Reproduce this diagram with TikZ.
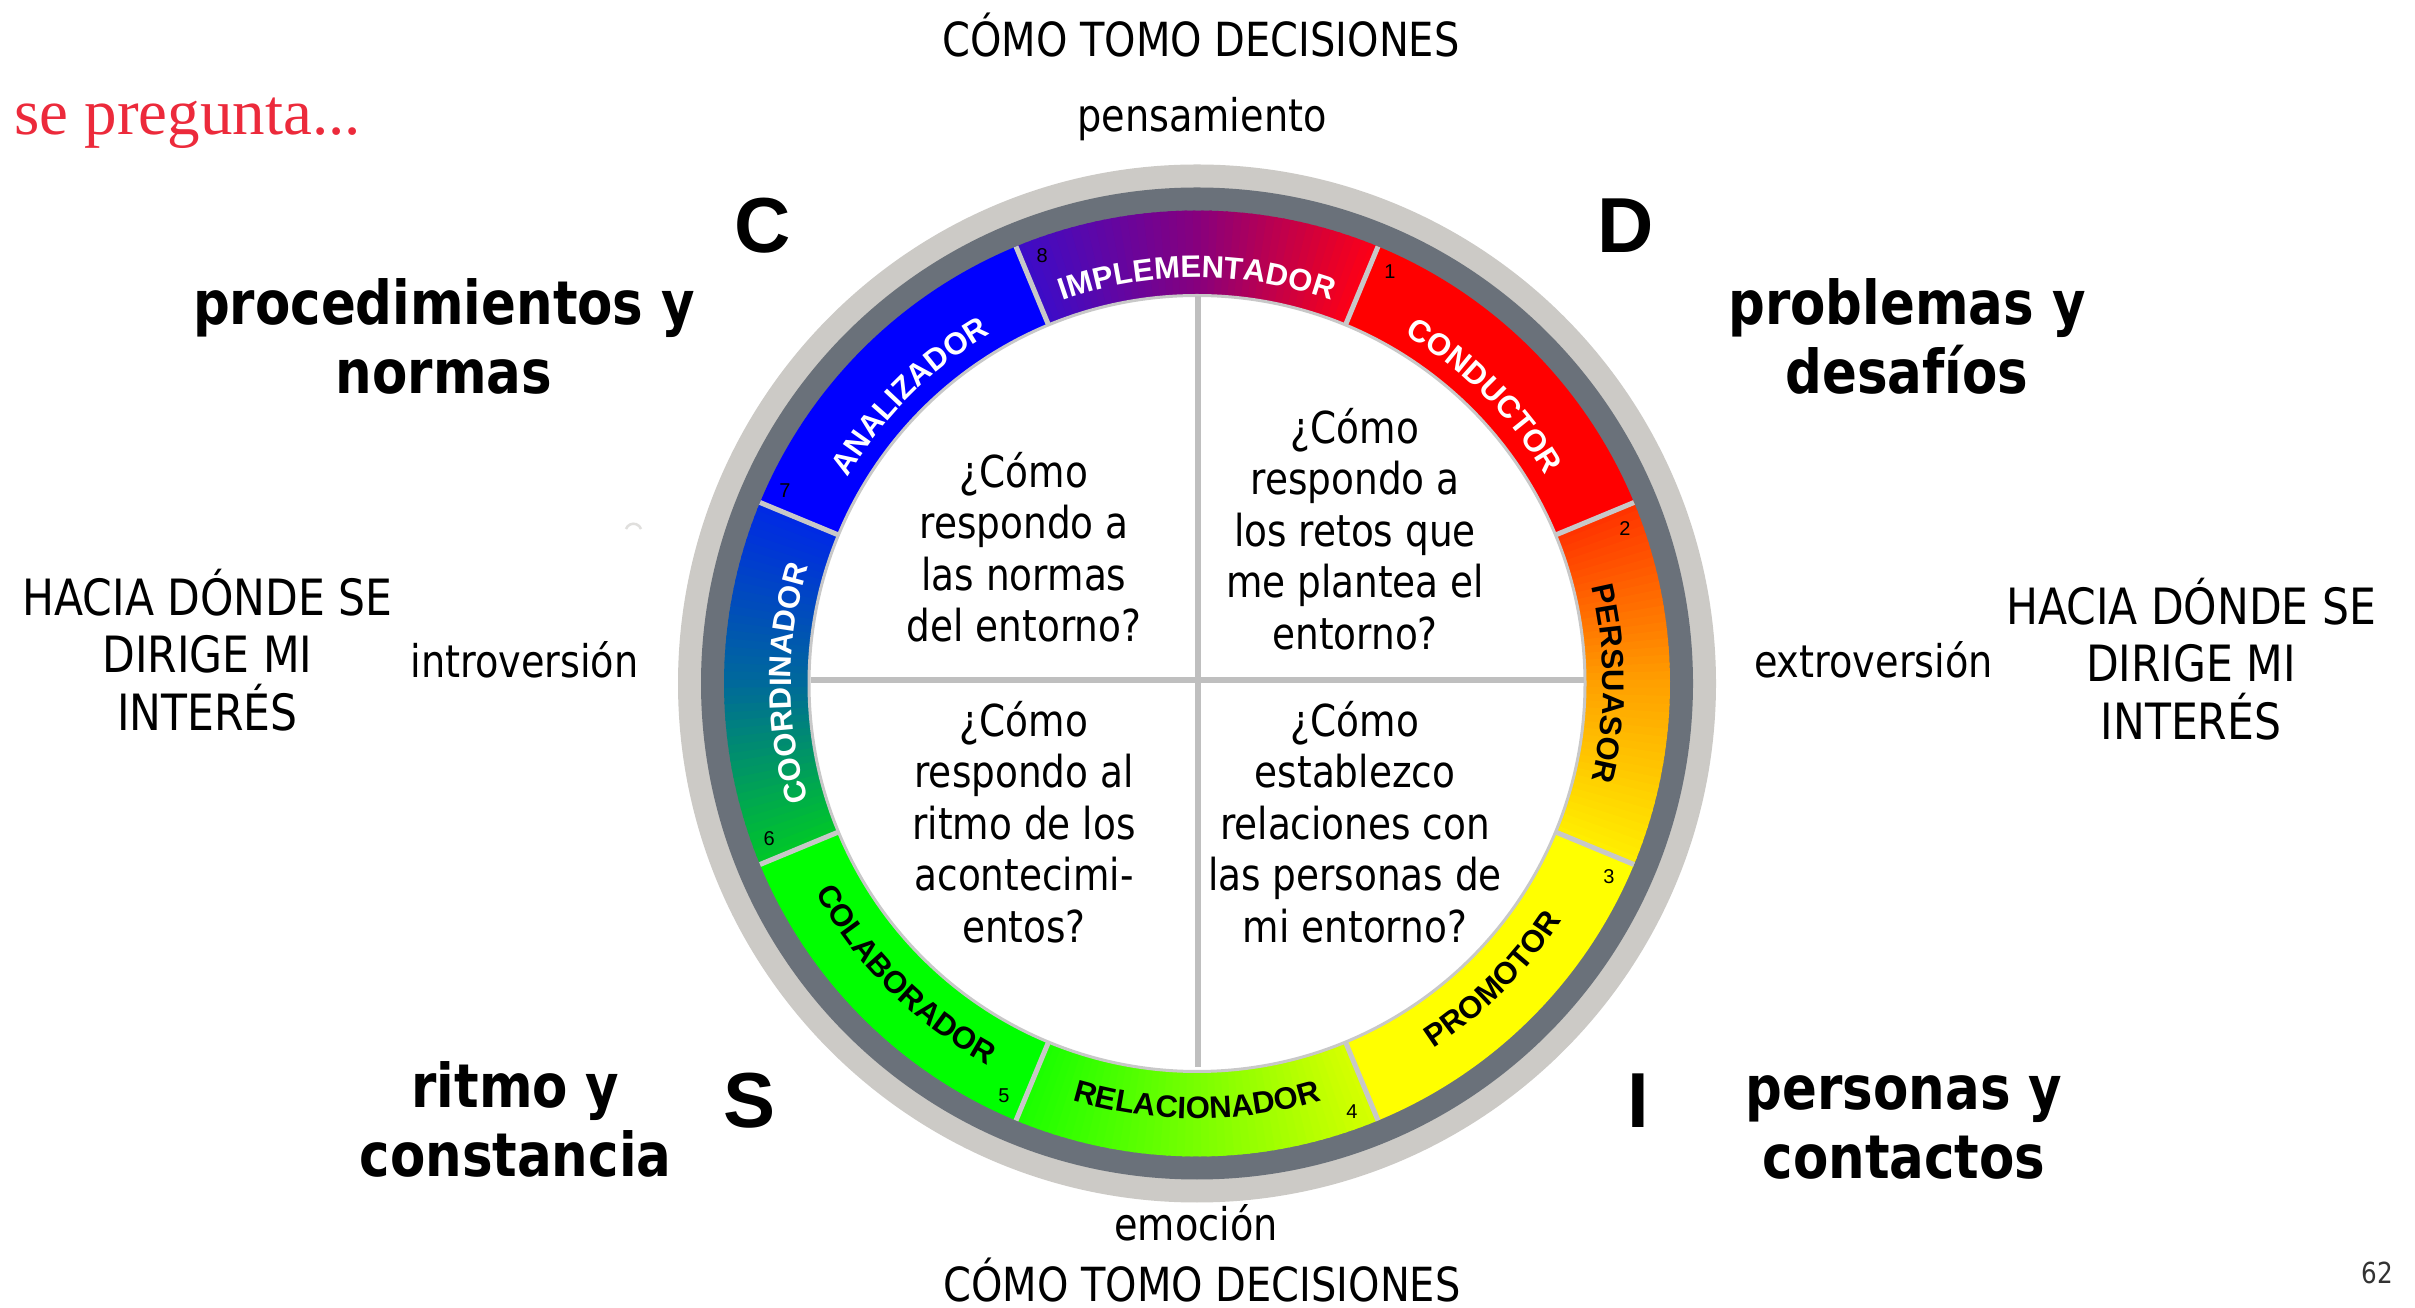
\documentclass[tikz,border=0pt]{standalone}
\usepackage{fontspec}
\setmainfont{DejaVu Sans}[FakeStretch=0.85]
\newfontfamily\arialf{Liberation Sans}
\newfontfamily\redserif{Liberation Serif}
\usetikzlibrary{decorations.text}

\definecolor{ringlight}{HTML}{CCCAC6}
\definecolor{ringdark}{HTML}{6A717A}
\definecolor{sepgray}{HTML}{C8C8C8}
\definecolor{crossgray}{HTML}{BFBFBF}
\definecolor{titlered}{HTML}{EC2A3B}
\definecolor{pagegray}{HTML}{333333}
\definecolor{impA}{RGB}{60,12,200}
\definecolor{impB}{RGB}{135,0,125}
\definecolor{impC}{RGB}{255,0,20}
\definecolor{perA}{RGB}{255,50,0}
\definecolor{perB}{RGB}{255,160,0}
\definecolor{perC}{RGB}{255,240,0}
\definecolor{relA}{RGB}{25,255,0}
\definecolor{relB}{RGB}{120,255,0}
\definecolor{relC}{RGB}{215,255,0}
\definecolor{cooA}{RGB}{0,40,230}
\definecolor{cooB}{RGB}{0,105,155}
\definecolor{cooC}{RGB}{0,200,40}
\definecolor{conCol}{RGB}{255,0,0}
\definecolor{proCol}{RGB}{255,255,0}
\definecolor{colCol}{RGB}{0,255,0}
\definecolor{anaCol}{RGB}{0,0,255}

\newcommand\rin{388}
\newcommand\rout{473}
\newcommand\ringfont{\arialf\bfseries\fontsize{31}{36}\selectfont}

% solid sector: start angle, end angle, colour
\newcommand\solidsector[3]{%
  \fill[#3] (#1:\rin) arc[start angle=#1, end angle=#2, radius=\rin]
    -- (#2:\rout) arc[start angle=#2, end angle=#1, radius=\rout] -- cycle;}

% gradient sector of 45 degrees, clockwise from #1: colours #2 -> #3 -> #4
\newcommand\gradsector[4]{%
  \foreach \k in {0,...,44}{%
    \pgfmathsetmacro\aa{#1-\k}%
    \pgfmathsetmacro\bb{max(#1-45,#1-\k-1.3)}%
    \pgfmathtruncatemacro\pp{ifthenelse(\k<22.5,(\k+0.5)*100/22.5,(\k+0.5-22.5)*100/22.5)}%
    \ifnum\k<23 \colorlet{gcol}{#3!\pp!#2}\else\colorlet{gcol}{#4!\pp!#3}\fi
    \fill[gcol] (\aa:\rin) arc[start angle=\aa, end angle=\bb, radius=\rin]
      -- (\bb:\rout) arc[start angle=\bb, end angle=\aa, radius=\rout] -- cycle;
  }}

\tikzset{
  quad/.style={align=center, inner sep=0, font=\fontsize{44}{51.5}\selectfont},
  axislbl/.style={inner sep=0, anchor=base, font=\fontsize{45}{54}\selectfont},
  captitle/.style={inner sep=0, anchor=base, font=\fontsize{47}{56}\selectfont},
  hacia/.style={align=center, inner sep=0, font=\fontsize{50}{57.5}\selectfont},
  boldlbl/.style={align=center, inner sep=0, font=\bfseries\fontsize{60.5}{69}\selectfont},
  bigletter/.style={inner sep=0, anchor=base, font=\arialf\bfseries\fontsize{78}{90}\selectfont},
  ringnum/.style={inner sep=0, font=\arialf\fontsize{20}{24}\selectfont},
  seprule/.style={draw=sepgray, line width=5pt},
  crossline/.style={draw=crossgray, line width=6pt},
  ringtext/.style={decorate, decoration={text along path, text align=center, text color=#1}},
}

\begin{document}
\begin{tikzpicture}[x=1pt, y=1pt]
\useasboundingbox (0,0) rectangle (2415,1307);
\fill[white] (0,0) rectangle (2415,1307);

\begin{scope}[shift={(1197,623.5)}]
  \fill[ringlight] (0,0) circle (519);
  \fill[ringdark] (0,0) circle (496);
  % gradient sectors
  \gradsector{112.5}{impA}{impB}{impC}
  \gradsector{22.5}{perA}{perB}{perC}
  \gradsector{-67.5}{relC}{relB}{relA}
  \gradsector{202.5}{cooC}{cooB}{cooA}
  % solid sectors
  \solidsector{67.5}{22.5}{conCol}
  \solidsector{-22.5}{-67.5}{proCol}
  \solidsector{-112.5}{-157.5}{colCol}
  \solidsector{157.5}{112.5}{anaCol}
  % separators
  \foreach \s in {112.5,67.5,22.5,-22.5,-67.5,-112.5,-157.5,157.5}{
    \draw[seprule] (\s:\rin-2) -- (\s:\rout);
  }
  % inner disc
  \fill[white, draw=sepgray, line width=3pt] (0,0) circle (\rin);

  % ring labels, outer-facing
  \path[ringtext=white, decoration={text={|\ringfont|IMPLEMENTADOR}}]
    (112.5:406) arc[start angle=112.5, end angle=67.5, radius=406];
  \path[ringtext=white, decoration={text={|\ringfont|CONDUCTOR}}]
    (67.5:406) arc[start angle=67.5, end angle=22.5, radius=406];
  \path[ringtext=black, decoration={text={|\ringfont|PERSUASOR}}]
    (22.5:406) arc[start angle=22.5, end angle=-22.5, radius=406];
  \path[ringtext=white, decoration={text={|\ringfont|COORDINADOR}}]
    (202.5:406) arc[start angle=202.5, end angle=157.5, radius=406];
  \path[ringtext=white, decoration={text={|\ringfont|ANALIZADOR}}]
    (157.5:406) arc[start angle=157.5, end angle=112.5, radius=406];
  % ring labels, inner-facing
  \path[ringtext=black, decoration={text={|\ringfont|PROMOTOR}}]
    (-67.5:435) arc[start angle=-67.5, end angle=-22.5, radius=435];
  \path[ringtext=black, decoration={text={|\ringfont|RELACIONADOR}}]
    (-112.5:435) arc[start angle=-112.5, end angle=-67.5, radius=435];
  \path[ringtext=black, decoration={text={|\ringfont|COLABORADOR}}]
    (-157.5:435) arc[start angle=-157.5, end angle=-112.5, radius=435];

  % numbers
  \node[ringnum] (n1) at (64.9:455) {1};
  \node[ringnum] (n2) at (19.9:455) {2};
  \node[ringnum] (n3) at (-25.1:455) {3};
  \node[ringnum] (n4) at (-70.1:455) {4};
  \node[ringnum] (n5) at (-115.1:455) {5};
  \node[ringnum] (n6) at (-160.1:455) {6};
  \node[ringnum] (n7) at (154.9:455) {7};
  \node[ringnum] (n8) at (109.9:455) {8};
\end{scope}

% cross
\coordinate (vtop) at (1198,1011);
\coordinate (vbot) at (1198,240);
\coordinate (hleft) at (811,627);
\coordinate (hright) at (1584,627);
\draw[crossline] (vtop) -- (vbot);
\draw[crossline] (hleft) -- (hright);

% faint mark
\draw[ringlight!60, line width=2.5pt] (626,778) arc[start angle=160, end angle=20, radius=8];

% quadrant questions
\node[quad] (qul) at (1024,760) {¿Cómo\\respondo a\\las normas\\del entorno?};
\node[quad] (qur) at (1355,778) {¿Cómo\\respondo a\\los retos que\\me plantea el\\entorno?};
\node[quad] (qll) at (1024,485) {¿Cómo\\respondo al\\ritmo de los\\acontecimi-\\entos?};
\node[quad] (qlr) at (1355,485) {¿Cómo\\establezco\\relaciones con\\las personas de\\mi entorno?};

% axis labels
\node[captitle] (ttop) at (1201,1250) {CÓMO TOMO DECISIONES};
\node[axislbl] (pens) at (1202,1175) {pensamiento};
\node[axislbl] (emo) at (1196,67) {emoción};
\node[captitle] (tbot) at (1202,6) {CÓMO TOMO DECISIONES};
\node[axislbl] (intro) at (524.5,629) {introversión};
\node[axislbl] (extro) at (1873.5,629) {extroversión};
\node[hacia] (hacL) at (207.5,657) {HACIA DÓNDE SE\\DIRIGE MI\\INTERÉS};
\node[hacia] (hacR) at (2191,648) {HACIA DÓNDE SE\\DIRIGE MI\\INTERÉS};

% quadrant letters
\node[bigletter] (lC) at (763,1054) {C};
\node[bigletter] (lD) at (1626,1054) {D};
\node[bigletter] (lS) at (750,179) {S};
\node[bigletter] (lI) at (1638,179) {I};

% bold descriptions
\node[boldlbl] (bC) at (444,970.5) {procedimientos y\\normas};
\node[boldlbl] (bD) at (1907,970.5) {problemas y\\desafíos};
\node[boldlbl] (bS) at (515.5,187.5) {ritmo y\\constancia};
\node[boldlbl] (bI) at (1904,180) {personas y\\contactos};

% title and page number
\node[inner sep=0, anchor=base west, text=titlered, font=\redserif\fontsize{65}{72}\selectfont] (ask) at (14,1172) {se pregunta...};
\node[inner sep=0, anchor=base, text=pagegray, font=\fontsize{29}{34}\selectfont] (page) at (2377,24) {62};
\end{tikzpicture}
\end{document}
